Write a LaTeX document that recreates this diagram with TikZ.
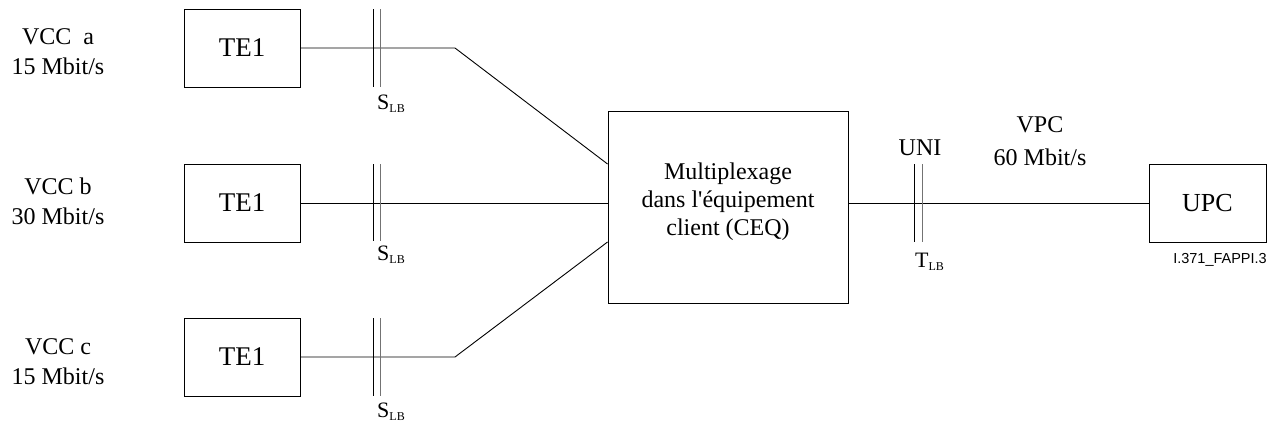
\documentclass[tikz,border=0pt]{standalone}
\usepackage{fontspec}
\setmainfont{Liberation Serif}
\newfontfamily\codefont{Liberation Sans}
\usetikzlibrary{positioning}

\begin{document}
\begin{tikzpicture}[
  x=1pt,y=-1pt,
  font=\fontsize{24}{30}\selectfont,
  box/.style={draw,line width=0.9pt,minimum width=116pt,minimum height=78pt,
              inner sep=0pt,font=\fontsize{27}{30}\selectfont},
  wire/.style={line width=0.9pt},
  cutmark/.style={line width=0.9pt},
  cutgray/.style={line width=0.9pt,draw=black!55},
  lbl/.style={align=center,inner sep=0pt},
  refpt/.style={anchor=base west,inner sep=0pt,font=\fontsize{22}{24}\selectfont}
]
\useasboundingbox (0,0) rectangle (1269,423);

% terminals and multiplexer
\node[box] (tea) at (242,48) {TE1};
\node[box] (teb) at (242,203) {TE1};
\node[box] (tec) at (242,357) {TE1};
\node[box,minimum width=240pt,minimum height=192pt] (ceq) at (728,207) {};
\node[lbl,font=\fontsize{24}{28}\selectfont] (ceqtxt) at (728,202)
  {Multiplexage\\dans l\textquotesingle équipement\\client (CEQ)};
\node[box,minimum width=117pt,font=\fontsize{26}{30}\selectfont] (upc) at (1207.5,203) {UPC};

% connection names
\node[lbl] (vcca) at (58,52) {VCC\ \ a\\15 Mbit/s};
\node[lbl] (vccb) at (58,201) {VCC b\\30 Mbit/s};
\node[lbl] (vccc) at (58,362) {VCC c\\15 Mbit/s};
\node[lbl,font=\fontsize{24}{33}\selectfont] (vpc) at (1040,141) {VPC\\60 Mbit/s};

% wiring
\coordinate (bendA) at (455,48);
\coordinate (bendC) at (455,357);
\draw[wire] (tea.east) -- (bendA) -- ([yshift=43pt]ceq.west);
\draw[wire] (teb.east) -- (teb.east -| ceq.west);
\draw[wire] (tec.east) -- (bendC) -- ([yshift=-35pt]ceq.west);
\draw[wire] (ceq.east |- upc.west) -- (upc.west);

% reference points
\draw[cutmark] (373,9) -- (373,87);
\draw[cutgray] (380,9) -- (380,87);
\draw[cutmark] (373,164) -- (373,241);
\draw[cutgray] (380,164) -- (380,241);
\draw[cutmark] (373,318) -- (373,396);
\draw[cutgray] (380,318) -- (380,396);
\draw[cutmark] (914,164) -- (914,242);
\draw[cutgray] (922,164) -- (922,242);
\node[refpt] (sa) at (377,109) {S\raisebox{-3pt}{\fontsize{12}{12}\selectfont LB}};
\node[refpt] (sb) at (377,260) {S\raisebox{-3pt}{\fontsize{12}{12}\selectfont LB}};
\node[refpt] (sc) at (377,417) {S\raisebox{-3pt}{\fontsize{12}{12}\selectfont LB}};
\node[refpt] (tlb) at (915,267) {T\raisebox{-3pt}{\fontsize{12}{12}\selectfont LB}};
\node[anchor=base,inner sep=0pt] (uni) at (920,155) {UNI};

\node[inner sep=0pt,font=\codefont\fontsize{14.5}{16}\selectfont] (figid) at (1220,260)
  {I.371\_FAPPI.3};
\end{tikzpicture}
\end{document}
